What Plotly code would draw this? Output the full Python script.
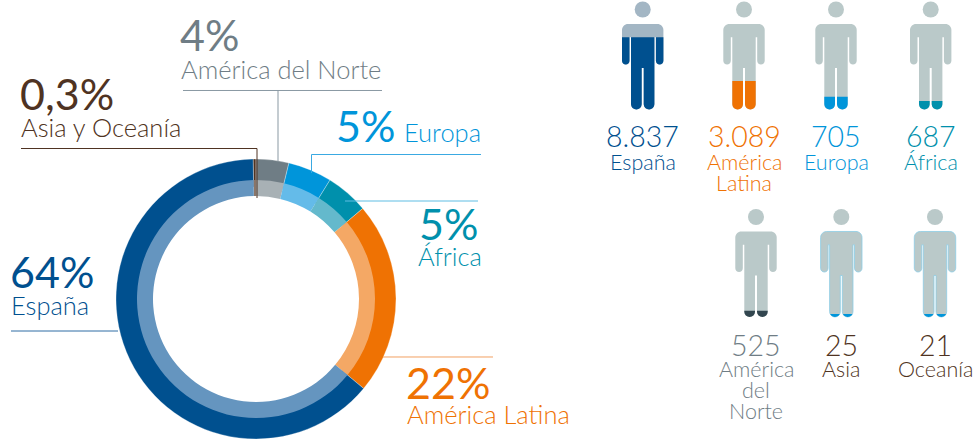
import math
import plotly.graph_objects as go

W, H = 975, 439

# ---- data ----
donut_regions = ["Asia y Oceanía", "América del Norte", "Europa", "África", "América Latina", "España"]
donut_values = [46, 525, 705, 687, 3089, 8837]
donut_labels = ["0,3%", "4%", "5%", "5%", "22%", "64%"]
people_regions = ["España", "América Latina", "Europa", "África", "América del Norte", "Asia", "Oceanía"]
people_labels = ["8.837", "3.089", "705", "687", "525", "25", "21"]

# ---- styles ----
outer_colors = ["#4F3322", "#6F7D85", "#0095DA", "#0090AC", "#EF7203", "#00508F"]
inner_colors = ["#8A7568", "#A8B1B5", "#64BBE9", "#64B9CC", "#F4A865", "#6595BF"]
BROWN, GREY, BLUE, TEAL, ORANGE, NAVY = outer_colors
FONT = "Lato"
CX, CY = 256, 299
BIG, MID, NUM, SMALL = 43, 25.5, 28.5, 21.5


def px(x):
    return x / W


def py(y):
    return 1 - y / H


def pie(colors, r, hole, edge):
    return go.Pie(
        labels=donut_regions, values=donut_values, sort=False, direction="clockwise",
        rotation=-360 * donut_values[0] / sum(donut_values),
        hole=hole, textinfo="none", hoverinfo="label+percent", showlegend=False,
        marker=dict(colors=colors, line=dict(color="rgba(255,255,255,0.6)", width=edge)),
        domain=dict(x=[px(CX - r), px(CX + r)], y=[py(CY + r), py(CY - r)]),
    )


fig = go.Figure([pie(outer_colors, 140, 0.8, 0.5), pie(inner_colors, 119, 103 / 119, 0)])

shapes = []
annotations = []


def text(x, baseline, s, size, color, anchor="left", weight=300):
    annotations.append(dict(
        x=px(x), y=py(baseline + size * 0.20), xref="paper", yref="paper", text=s,
        showarrow=False, xanchor=anchor, yanchor="bottom", borderpad=0, borderwidth=0,
        font=dict(family=FONT, size=size, color=color, weight=weight),
    ))


def line(pts, color, width=1):
    path = "M" + " L".join(f"{px(x):.5f},{py(y):.5f}" for x, y in pts)
    shapes.append(dict(type="path", path=path, xref="paper", yref="paper", layer="above",
                       line=dict(color=color, width=width)))


# ---- leader lines ----
line([(21, 148.5), (257, 148.5), (257, 198)], BROWN)
line([(183, 90.5), (382, 90.5)], "#8A99A3")
line([(278, 90.5), (278, 161)], "#8A99A3")
line([(311.5, 173), (311.5, 154.5), (481, 154.5)], "#3AA9E2")
line([(345, 201), (478, 201)], "#5FBDE3")
line([(383, 357), (493, 357)], "#F2A062")
line([(11, 331), (118, 331)], "#2E6CA4")

# ---- donut labels ----
text(180, 51, donut_labels[1], BIG, GREY, weight=400)
text(181, 79, donut_regions[1], MID, GREY)
text(20, 110, donut_labels[0], BIG, BROWN, weight=400)
text(21, 137, donut_regions[0], MID, BROWN)
text(336, 142, donut_labels[2], BIG, BLUE, weight=400)
text(403.5, 142, donut_regions[2], MID, BLUE)
text(419, 240, donut_labels[3], BIG, TEAL, weight=400)
text(418, 266, donut_regions[3], MID, TEAL)
text(406, 399, donut_labels[4], BIG, ORANGE, weight=400)
text(407, 424, donut_regions[4], MID, ORANGE)
text(10, 288, donut_labels[5], BIG, NAVY, weight=400)
text(11, 315, donut_regions[5], MID, NAVY)


# ---- people pictograms ----
def arc(cx, cy, r, a0, a1, n=8):
    return [(cx + r * math.cos(math.radians(a0 + (a1 - a0) * i / n)),
             cy + r * math.sin(math.radians(a0 + (a1 - a0) * i / n))) for i in range(n + 1)]


def person(cx, top):
    hw, torso, arm, hgt = 20.7, 11.7, 7.5, 85.5
    right = []
    right += arc(hw - 6, 6, 6, -90, 0)
    right += arc(hw - arm / 2, 40.5 - arm / 2, arm / 2, 0, 180)
    right += [(hw - arm, 13.3), (torso, 13.3)]
    right += arc(torso - 5.35, hgt - 5.35, 5.35, 0, 180)
    right += [(1, 44)]
    left = [(-x, y) for x, y in reversed(right)]
    return [(cx + x, top + y) for x, y in right + left]


def clip_below(poly, cut):
    out = []
    for i, p in enumerate(poly):
        q = poly[(i + 1) % len(poly)]
        if p[1] >= cut:
            out.append(p)
        if (p[1] >= cut) != (q[1] >= cut):
            t = (cut - p[1]) / (q[1] - p[1])
            out.append((p[0] + t * (q[0] - p[0]), cut))
    return out


def filled(pts, color, outline=None):
    path = "M" + " L".join(f"{px(x):.5f},{py(y):.5f}" for x, y in pts) + " Z"
    shapes.append(dict(type="path", path=path, xref="paper", yref="paper", layer="below",
                       fillcolor=color,
                       line=dict(color=outline or color, width=0.8 if outline else 0)))


BODY = "#BAC9C9"
icons = [
    # centre x, top of torso, colour, top of the coloured part, base colour, outline
    (642.7, 24, NAVY, 37.3, "#A3B6C4", None),
    (744.0, 24, ORANGE, 81, BODY, None),
    (836.0, 24, BLUE, 96.7, BODY, None),
    (930.7, 24, TEAL, 101, BODY, None),
    (756.0, 231.5, "#32464F", 310.7, BODY, None),
    (841.3, 231.5, BLUE, 314, BODY, "#8CCDE6"),
    (935.0, 231.5, BLUE, 314, BODY, "#8CCDE6"),
]
for cx, top, color, cut, base, outline in icons:
    poly = person(cx, top)
    filled(poly, base, outline)
    filled(clip_below(poly, cut), color)
    shapes.append(dict(type="circle", xref="paper", yref="paper", layer="below",
                       x0=px(cx - 8), x1=px(cx + 8), y0=py(top - 6.5), y1=py(top - 22.5),
                       fillcolor=base, line=dict(width=0)))

R1, R2 = 147, 356
text(642.5, R1, people_labels[0], NUM, NAVY, "center")
text(642.5, 170.5, "España", SMALL, NAVY, "center")
text(744, R1, people_labels[1], NUM, ORANGE, "center")
text(744, 170.5, "América", SMALL, ORANGE, "center")
text(744, 191.5, "Latina", SMALL, ORANGE, "center")
text(836, R1, people_labels[2], NUM, BLUE, "center")
text(836, 170.5, "Europa", SMALL, BLUE, "center")
text(930.7, R1, people_labels[3], NUM, TEAL, "center")
text(930.7, 170.5, "África", SMALL, TEAL, "center")
text(756, R2, people_labels[4], NUM, GREY, "center")
text(756, 378, "América", SMALL, GREY, "center")
text(756, 399, "del", SMALL, GREY, "center")
text(756, 420, "Norte", SMALL, GREY, "center")
text(841.3, R2, people_labels[5], NUM, BROWN, "center")
text(841.3, 378, people_regions[5], SMALL, BROWN, "center")
text(935, R2, people_labels[6], NUM, BROWN, "center")
text(935, 378, people_regions[6], SMALL, BROWN, "center")

fig.update_layout(
    width=W, height=H, margin=dict(l=0, r=0, t=0, b=0),
    paper_bgcolor="white", plot_bgcolor="white",
    shapes=shapes, annotations=annotations, showlegend=False,
)
fig.write_html("out.html", config={"displayModeBar": False},
               post_script="document.body.style.margin='0';document.documentElement.style.overflow='hidden';")
